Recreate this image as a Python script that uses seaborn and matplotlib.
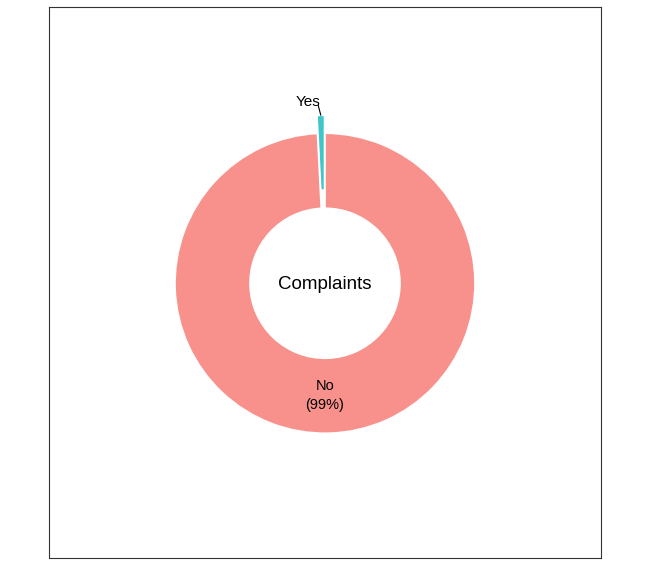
import matplotlib
matplotlib.use("Agg")
import matplotlib.pyplot as plt
import seaborn as sns

sns.set_theme(style="white")
plt.rcParams['font.family'] = ['Liberation Sans', 'DejaVu Sans']

categories = ["Yes", "No"]
values = [0.8, 99.2]
pct_labels = ["", "(99%)"]
colors = ["#3FC6C9", "#F8918B"]
explode = [0.12, 0.0]

fig = plt.figure(figsize=(6.47, 5.7), dpi=100)
ax = fig.add_axes([49/647, 12/570, 552/647, 551/570])

wedges, _ = ax.pie(values, colors=colors, startangle=90, counterclock=True,
                   explode=explode, radius=1.0, frame=True,
                   wedgeprops=dict(width=0.5, edgecolor="white", linewidth=1.2))

ax.set_aspect("equal")
ax.set_xlim(-1.84, 1.84)
ax.set_ylim(-1.83, 1.84)
ax.set_xticks([])
ax.set_yticks([])
ax.set_frame_on(True)
for s in ax.spines.values():
    s.set_visible(True)
    s.set_color("#333333")
    s.set_linewidth(0.8)

ax.text(0, -0.01, "Complaints", ha="center", va="center", fontsize=13.5, color="black")
ax.text(0, -0.75, categories[1] + "\n" + pct_labels[1], ha="center", va="center",
        fontsize=10.5, color="black", linespacing=1.5)
ax.text(-0.03, 1.21, categories[0], ha="right", va="center", fontsize=11, color="black")
ax.plot([-0.045, -0.028], [1.185, 1.12], color="black", lw=0.8)

fig.savefig("out.png", dpi=100)
